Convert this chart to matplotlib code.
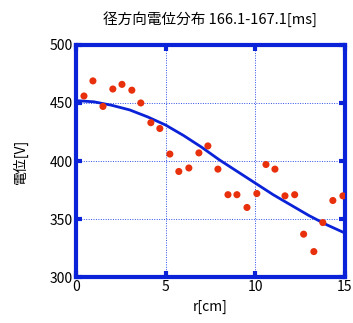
import numpy as np
import matplotlib.pyplot as plt

plt.rcParams['font.family'] = ['Noto Sans CJK JP', 'DejaVu Sans']

# measured potentials
r_cm = [0.45, 0.95, 1.51, 2.06, 2.57, 3.12, 3.62, 4.18, 4.68, 5.24, 5.74, 6.30, 6.86, 7.36,
        7.92, 8.48, 8.98, 9.54, 10.09, 10.60, 11.10, 11.66, 12.20, 12.70, 13.27, 13.77,
        14.33, 14.89]
volt = [456, 469, 447, 462, 466, 461, 450, 433, 428, 406, 391, 394, 407, 413,
        393, 371, 371, 360, 372, 397, 393, 370, 371, 337, 322, 347, 366, 370]

# fitted curve
fit_r = [0, 1, 2, 3, 4, 5, 6, 7, 8, 9, 10, 11, 12, 13, 14, 15]
fit_v = [452, 451, 448, 444, 438, 431, 422, 412, 401, 391, 381, 371, 362, 353, 345, 338]

blue = '#0a22d8'

fig = plt.figure(figsize=(3.53, 3.23), dpi=100)
ax = fig.add_axes([0.215, 0.142, 0.762, 0.719])

ax.plot(fit_r, fit_v, color=blue, lw=2, zorder=3)
ax.scatter(r_cm, volt, s=26, color='#e8300c', edgecolors='none', zorder=4)

ax.set_xlim(0, 15)
ax.set_ylim(300, 500)
ax.set_xticks([0, 5, 10, 15])
ax.set_yticks([300, 350, 400, 450, 500])
ax.grid(True, color='#3050e8', linestyle=(0, (1, 1.5)), linewidth=0.7)

for s in ax.spines.values():
    s.set_color(blue)
    s.set_linewidth(3)
ax.tick_params(direction='in', length=4, width=3, color=blue, top=True, right=True,
               labelsize=10, pad=2)

ax.set_title('径方向電位分布 166.1-167.1[ms]', fontsize=10.5, pad=15)
ax.set_xlabel('r[cm]', fontsize=10, labelpad=4)
ax.set_ylabel('電位[V]', fontsize=10, labelpad=16)

fig.savefig('out.png', dpi=100)
